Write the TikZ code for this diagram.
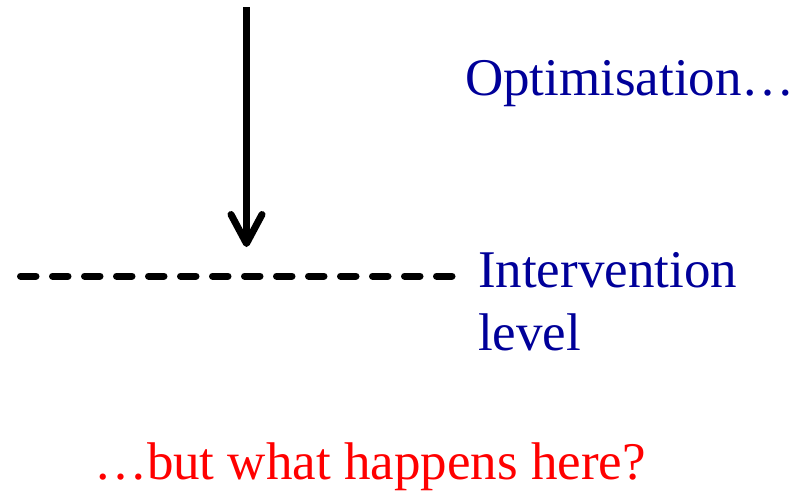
\documentclass[tikz,border=0pt]{standalone}
\usepackage{fontspec}
\setmainfont{Liberation Serif}
\usetikzlibrary{arrows.meta}
\definecolor{dblue}{RGB}{0,0,153}
\definecolor{hred}{RGB}{255,0,0}
\begin{document}
\begin{tikzpicture}[x=1pt,y=-1pt,
  lbl/.style={inner sep=0pt,outer sep=0pt,font=\fontsize{53}{63}\selectfont},
  level line/.style={line width=7pt,line cap=round,dash pattern=on 15.5pt off 16.5pt},
  opt arrow/.style={line width=7pt,-{Straight Barb[length=29pt,width=31pt,line cap=round,line join=round]}}]
\useasboundingbox (0,0) rectangle (807,491);
\coordinate (top) at (246.5,7);
\coordinate (tip) at (246.5,247);
\coordinate (ll) at (20.5,276);
\coordinate (lr) at (453.5,276);
\draw[opt arrow] (top) -- (tip);
\draw[level line] (ll) -- (lr);
\node[lbl,text=dblue,anchor=base west] (opt) at (465,95) {Optimisation…};
\node[lbl,text=dblue,anchor=base west,align=left] (int) at (478,350) {Intervention\\level};
\node[lbl,text=hred,anchor=base west] (q) at (94,479) {…but what happens here?};
\end{tikzpicture}
\end{document}
